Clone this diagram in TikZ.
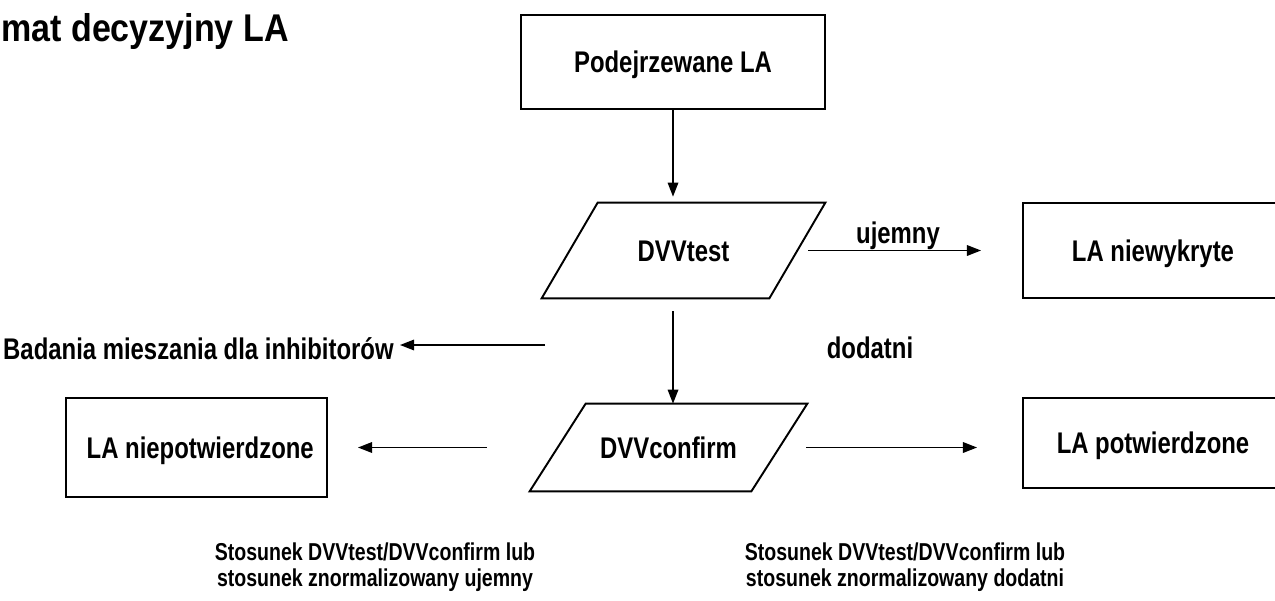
\documentclass[tikz,border=0pt]{standalone}
\usepackage{fontspec}
\usepackage{tikz}
\usetikzlibrary{arrows.meta}
\newfontfamily\narrowf{Liberation Sans}[FakeStretch=0.8]
\newfontfamily\titlef{Liberation Sans}[FakeStretch=0.88]
\definecolor{linec}{HTML}{000000}
\tikzset{
  ar/.style={-{Triangle[length=8pt,width=6pt]},line width=0.9pt,linec},
  bx/.style={rectangle,draw=linec,line width=1.1pt,inner sep=0pt},
  pgl/.style={line width=1.1pt,linec,line join=miter},
  tx/.style={font=\narrowf\bfseries\fontsize{17}{20}\selectfont,inner sep=0pt,align=center,text height=12.2pt,text depth=0pt},
  sm/.style={font=\narrowf\bfseries\fontsize{13.9}{14.7}\selectfont,inner sep=0pt,align=center,text height=10pt,text depth=0pt}
}
\newcommand{\pgram}[1]{\draw[pgl] ([xshift=-0.56cm]#1.south west) -- ([xshift=0.56cm]#1.north west) -- ([xshift=0.56cm]#1.north east) -- ([xshift=-0.56cm]#1.south east) -- cycle;}
\begin{document}
\begin{tikzpicture}
\useasboundingbox (0,0) rectangle (25.5,12);
\clip (0,0) rectangle (25.5,12);
\node[anchor=base west,inner sep=0pt,font=\titlef\bfseries\fontsize{22}{26}\selectfont] (ttl) at (0.02,11.166) {mat decyzyjny LA};
\node[bx,tx,minimum width=6.08cm,minimum height=1.88cm] (pod) at (13.46,10.76) {Podejrzewane LA};
\node[tx,minimum width=4.54cm,minimum height=1.9cm] (dvvt) at (13.67,6.99) {DVVtest};
\pgram{dvvt}
\node[bx,tx,minimum width=5.2cm,minimum height=1.9cm] (nwyk) at (23.06,6.99) {LA niewykryte};
\node[tx] (uj) at (17.96,7.34) {ujemny};
\node[tx] (dod) at (17.4,5.04) {dodatni};
\node[tx,anchor=east] (bad) at (7.88,5.02) {Badania mieszania dla inhibitorów};
\node[tx,minimum width=4.42cm,minimum height=1.74cm] (dvvc) at (13.37,3.05) {DVVconfirm};
\pgram{dvvc}
\node[bx,tx,minimum width=5.22cm,minimum height=1.98cm] (niep) at (3.93,3.05) {\hspace*{0.15cm}LA niepotwierdzone};
\node[bx,tx,minimum width=5.2cm,minimum height=1.8cm] (potw) at (23.06,3.14) {LA potwierdzone};
\node[sm] (sneg) at (7.5,0.44) {Stosunek DVVtest/DVVconfirm lub\\stosunek znormalizowany ujemny};
\node[sm] (spos) at (18.1,0.44) {Stosunek DVVtest/DVVconfirm lub\\stosunek znormalizowany dodatni};
\coordinate (bst) at (10.9,5.1);
% arrows
\draw[ar,shorten >=0.12cm] (pod.south) -- (pod.south |- dvvt.north);
\draw[ar,shorten <=0.22cm,shorten >=0.82cm] (dvvt.east) -- (dvvt.east -| nwyk.west);
\draw[ar] ([yshift=-0.26cm]pod.south |- dvvt.south) -- (pod.south |- dvvc.north);
\draw[ar,shorten >=0.12cm] (bst) -- (bad.east |- bst);
\draw[ar,shorten <=1.42cm,shorten >=0.6cm] (dvvc.west) -- (dvvc.west -| niep.east);
\draw[ar,shorten <=0.54cm,shorten >=0.9cm] (dvvc.east) -- (dvvc.east -| potw.west);
\end{tikzpicture}
\end{document}
